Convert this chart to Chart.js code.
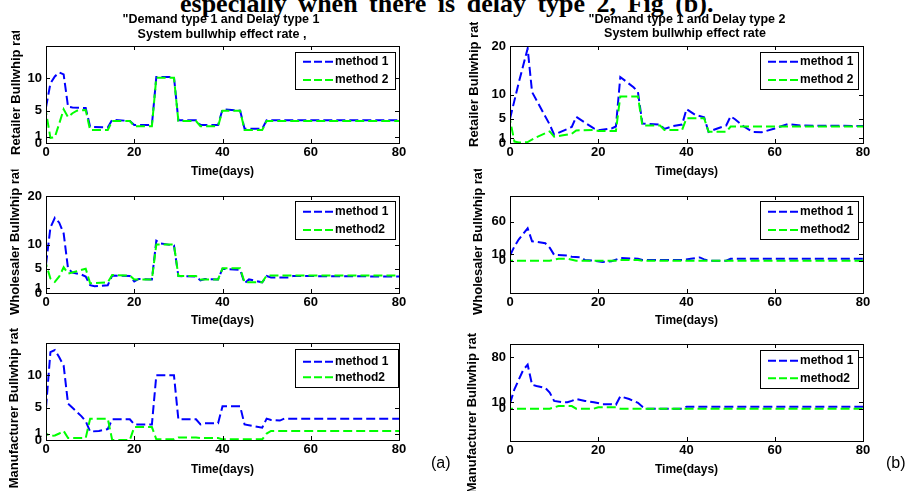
<!DOCTYPE html>
<html>
<head>
<meta charset="utf-8">
<script src="https://cdn.jsdelivr.net/npm/chart.js@4.4.0/dist/chart.umd.min.js"></script>
<style>
  html, body { margin: 0; padding: 0; background: #fff; }
  body { width: 908px; height: 491px; position: relative; overflow: hidden; }
  canvas { position: absolute; }
  .head { position: absolute; left: 180px; top: -9px; font: bold 26px "Liberation Serif", "Times New Roman", serif;
          line-height: 26px; white-space: nowrap; word-spacing: 5px; color: #000; }
  .tag { position: absolute; top: 455px; font: 16px "Liberation Sans", Arial, sans-serif; line-height: 16px; color: #000; }
</style>
</head>
<body>
<div class="head">especially when there is delay type 2, Fig (b).</div>
<canvas id="c1" width="454" height="191" style="left:0;top:0"></canvas>
<canvas id="c2" width="454" height="191" style="left:454px;top:0"></canvas>
<canvas id="c3" width="454" height="191" style="left:0;top:150px"></canvas>
<canvas id="c4" width="454" height="191" style="left:454px;top:150px"></canvas>
<canvas id="c5" width="454" height="191" style="left:0;top:300px"></canvas>
<canvas id="c6" width="454" height="191" style="left:454px;top:300px"></canvas>
<div class="tag" style="left:431px">(a)</div>
<div class="tag" style="left:886px">(b)</div>
<script>
const xTicks = [0, 20, 40, 60, 80];

// Retailer, delay type 1
const ret1Days1 = [0,1,2,3,4,5,6,9,10,14,15,19,20,24,25,29,30,34,35,39,40,44,45,49,50,80];
const ret1Method1 = [5.5,9.2,10.3,10.9,10.6,5.6,5.5,5.4,2.5,2.4,3.6,3.4,2.8,2.8,10.2,10.2,3.5,3.5,2.8,2.8,5.2,5.0,2.2,2.2,3.5,3.5];
const ret1Days2 = [0,1,2,3,4,5,6,7,9,10,14,15,19,20,24,25,29,30,34,35,39,40,44,45,49,50,80];
const ret1Method2 = [4.8,0.8,0.9,3.0,5.2,4.0,4.6,5.0,5.1,2.0,2.0,3.4,3.4,2.6,2.6,10.1,10.1,3.4,3.4,2.6,2.6,5.0,5.0,2.0,2.0,3.4,3.4];
const ret1YTicks = [0, 1, 5, 10];

// Retailer, delay type 2
const ret2Days1 = [0,2,4,5,9,10,14,15,17,19,20,23,24,25,28,29,30,34,35,37,39,40,42,44,45,47,49,50,51,53,55,57,60,63,66,80];
const ret2Method1 = [5,12.5,19.5,10.5,3.8,1.7,3.3,5.4,4.2,3.0,2.6,3.0,3.4,13.6,11.5,10.5,4.0,3.8,2.9,3.5,3.8,7.0,5.8,5.3,2.3,3.0,3.6,5.5,4.9,3.4,2.3,2.2,3.0,3.9,3.6,3.5];
const ret2Days2 = [0,1,2,4,6,8,9,10,12,14,15,19,20,24,25,29,30,34,35,39,40,44,45,49,50,80];
const ret2Method2 = [4.8,0.3,0.1,0.2,1.2,2.0,2.4,1.3,1.6,1.9,2.6,2.7,2.5,2.5,9.6,9.6,3.6,3.6,2.7,2.7,5.1,5.1,2.3,2.3,3.4,3.4];
const ret2YTicks = [0, 1, 5, 10, 20];

// Wholesaler, delay type 1
const whs1Days1 = [0,1,2,3,4,5,6,8,9,10,11,14,15,19,20,21,24,25,26,29,30,34,35,36,39,40,44,45,46,47,49,50,51,55,56,80];
const whs1Method1 = [5.9,13.5,15.5,14.5,12.3,5.0,4.2,3.8,3.4,1.6,1.4,1.6,3.6,3.5,2.4,2.9,2.8,10.8,10.2,9.8,3.5,3.4,2.6,2.9,2.8,5.0,4.8,2.0,2.8,2.6,2.2,3.5,3.2,3.2,3.5,3.4];
const whs1Days2 = [0,1,2,3,4,5,7,9,10,14,15,19,20,24,25,29,30,34,35,39,40,44,45,49,50,80];
const whs1Method2 = [6.0,3.0,2.3,3.4,5.3,4.0,4.5,5.0,2.0,2.2,3.7,3.6,2.8,2.8,10.0,10.0,3.5,3.5,2.8,2.8,5.1,5.1,2.2,2.2,3.6,3.6];
const whs1YTicks = [0, 1, 5, 10, 20];

// Wholesaler, delay type 2
const whs2Days1 = [0,1,2,4,5,6,8,9,10,13,14,16,17,19,21,23,25,29,30,39,41,43,44,45,49,50,80];
const whs2Method1 = [8,22,33,50,30,29,27,20,9,8,6,5,1,0,-2,-1,4,3,1,1,3,5,2,0,0,3,3];
const whs2Days2 = [0,9,11,13,15,24,25,29,30,80];
const whs2Method2 = [0,0,3,3,0,0,1,1,0,0];
const whs2YTicks = [0, 10, 60];

// Manufacturer, delay type 1
const man1Days1 = [0,1,2,3,4,5,6,8,9,10,12,14,15,19,20,24,25,29,30,34,35,36,39,40,44,45,49,50,51,53,54,80];
const man1Method1 = [5,13.6,13.9,12.8,11.5,5.6,5.0,3.7,2.9,1.3,1.4,1.7,3.2,3.2,2.4,2.4,10.0,10.0,3.2,3.2,2.4,2.6,2.6,5.2,5.2,2.4,1.9,3.3,3.1,3.0,3.3,3.3];
const man1Days2 = [0,1,2,3,4,5,9,10,14,15,19,20,24,25,29,30,34,35,39,40,49,50,51,80];
const man1Method2 = [1.0,0.6,0.7,1.0,1.4,0.3,0.3,3.3,3.3,0,0,2.0,2.0,0.1,0.1,0.4,0.4,0.3,0.3,0.1,0.1,1.0,1.4,1.4];
const man1YTicks = [0, 1, 5, 10];

// Manufacturer, delay type 2
const man2Days1 = [0,1,2,3,4,5,6,8,9,10,12,13,14,15,17,19,21,23,24,25,27,29,30,31,39,40,80];
const man2Method1 = [8,30,45,60,68,37,35,32,25,12,10,10,12,15,12,10,7,7,6,19,15,9,3,0,0,3,3];
const man2Days2 = [0,9,11,14,15,19,20,24,25,80];
const man2Method2 = [0,0,4,4,0,0,2,2,0,0];
const man2YTicks = [0, 10, 80];

const BLUE = 'rgb(0,0,255)';
const GREEN = 'rgb(0,255,0)';
const FONT = 'Arial, "Liberation Sans", Helvetica, sans-serif';
const CW = 454, CH = 191, YW = 40, XH = 25;

Chart.defaults.font.family = FONT;
Chart.defaults.font.size = 13;
Chart.defaults.font.weight = 'bold';
Chart.defaults.color = '#000';

function points(days, vals) {
  return days.map((d, i) => ({ x: d, y: vals[i] }));
}

// box, inward ticks, legend and the labels around each axes
function decor(p) {
  return {
    id: 'decor',
    afterDraw(chart) {
      const { ctx, chartArea: a, scales: { x, y } } = chart;
      ctx.save();
      ctx.strokeStyle = '#000';
      ctx.lineWidth = 1;
      ctx.strokeRect(a.left + 0.5, a.top + 0.5, a.right - a.left, a.bottom - a.top);
      ctx.beginPath();
      x.ticks.forEach(t => {
        const px = Math.round(x.getPixelForValue(t.value)) + 0.5;
        ctx.moveTo(px, a.bottom); ctx.lineTo(px, a.bottom - 4);
        ctx.moveTo(px, a.top); ctx.lineTo(px, a.top + 4);
      });
      y.ticks.forEach(t => {
        const py = Math.round(y.getPixelForValue(t.value)) + 0.5;
        ctx.moveTo(a.left, py); ctx.lineTo(a.left + 4, py);
        ctx.moveTo(a.right, py); ctx.lineTo(a.right - 4, py);
      });
      ctx.stroke();

      // legend
      const L = p.legend;
      ctx.fillStyle = '#fff';
      ctx.fillRect(L.l, L.t, L.r - L.l, L.b - L.t);
      ctx.strokeRect(L.l + 0.5, L.t + 0.5, L.r - L.l, L.b - L.t);
      ctx.font = 'bold 12px ' + FONT;
      ctx.textAlign = 'left';
      ctx.textBaseline = 'middle';
      chart.data.datasets.forEach((ds, i) => {
        const ly = L.rows[i];
        ctx.strokeStyle = ds.borderColor;
        ctx.lineWidth = 2;
        ctx.setLineDash([8, 3]);
        ctx.beginPath();
        ctx.moveTo(L.l + 8, ly);
        ctx.lineTo(L.l + 38, ly);
        ctx.stroke();
        ctx.setLineDash([]);
        ctx.fillStyle = '#000';
        ctx.fillText(ds.label, L.l + 40, ly);
      });

      // title lines
      ctx.textAlign = 'center';
      ctx.font = 'bold 12.5px ' + FONT;
      (p.title || []).forEach(tl => ctx.fillText(tl.text, tl.x, tl.y));

      // x label
      ctx.font = 'bold 12px ' + FONT;
      ctx.fillText('Time(days)', (a.left + a.right) / 2, p.xlabY);

      // y label, cut off where the panel ends
      ctx.save();
      ctx.beginPath();
      ctx.rect(0, p.ylab.clip, CW, CH);
      ctx.clip();
      ctx.translate(p.ylab.x, p.ylab.y);
      ctx.rotate(-Math.PI / 2);
      ctx.font = 'bold 13px ' + FONT;
      ctx.textAlign = 'left';
      ctx.textBaseline = 'alphabetic';
      ctx.fillText(p.ylabel, 0, 0);
      ctx.restore();
      ctx.restore();
    }
  };
}

const panels = [
  { id: 'c1', area: { l: 46, r: 399, t: 46, b: 143 }, yMin: 0, yMax: 15, yTicks: ret1YTicks,
    s1: [ret1Days1, ret1Method1], s2: [ret1Days2, ret1Method2], names: ['method 1', 'method 2'],
    title: [{ text: '"Demand type 1 and Delay type 1', x: 221, y: 20 }, { text: 'System bullwhip effect rate ,', x: 222, y: 34.5 }],
    xlabY: 171.5, ylabel: 'Retailer Bullwhip rate', ylab: { x: 19.5, y: 155, clip: 31 },
    legend: { l: 295, r: 395, t: 52, b: 89, rows: [61.7, 80] } },
  { id: 'c2', area: { l: 56, r: 409, t: 46, b: 143 }, yMin: 0, yMax: 20, yTicks: ret2YTicks,
    s1: [ret2Days1, ret2Method1], s2: [ret2Days2, ret2Method2], names: ['method 1', 'method 2'],
    title: [{ text: '"Demand type 1 and Delay type 2', x: 233, y: 19.5 }, { text: 'System bullwhip effect rate', x: 231, y: 33.5 }],
    xlabY: 171.5, ylabel: 'Retailer Bullwhip rate', ylab: { x: 23.5, y: 147, clip: 22 },
    legend: { l: 306, r: 404, t: 52, b: 89, rows: [61.7, 80] } },
  { id: 'c3', area: { l: 46, r: 399, t: 46, b: 143 }, yMin: 0, yMax: 20, yTicks: whs1YTicks,
    s1: [whs1Days1, whs1Method1], s2: [whs1Days2, whs1Method2], names: ['method 1', 'method2'],
    xlabY: 170.5, ylabel: 'Wholesaler Bullwhip rate', ylab: { x: 19.2, y: 165, clip: 19.5 },
    legend: { l: 295, r: 395, t: 51, b: 89, rows: [61.7, 80] } },
  { id: 'c4', area: { l: 56, r: 409, t: 46, b: 143 }, yMin: -50, yMax: 100, yTicks: whs2YTicks,
    s1: [whs2Days1, whs2Method1], s2: [whs2Days2, whs2Method2], names: ['method 1', 'method2'],
    xlabY: 171, ylabel: 'Wholesaler Bullwhip rate', ylab: { x: 28.2, y: 165, clip: 19 },
    legend: { l: 306, r: 404, t: 51, b: 89, rows: [61.7, 80] } },
  { id: 'c5', area: { l: 46, r: 399, t: 43, b: 140 }, yMin: 0, yMax: 15, yTicks: man1YTicks,
    s1: [man1Days1, man1Method1], s2: [man1Days2, man1Method2], names: ['method 1', 'method2'],
    xlabY: 169.5, ylabel: 'Manufacturer Bullwhip rate', ylab: { x: 18.2, y: 188.3, clip: 28 },
    legend: { l: 295, r: 398, t: 49, b: 87, rows: [61.7, 77.3] } },
  { id: 'c6', area: { l: 56, r: 409, t: 44, b: 141 }, yMin: -50, yMax: 100, yTicks: man2YTicks,
    s1: [man2Days1, man2Method1], s2: [man2Days2, man2Method2], names: ['method 1', 'method2'],
    xlabY: 169.8, ylabel: 'Manufacturer Bullwhip rate', ylab: { x: 21.5, y: 193.3, clip: 33 },
    legend: { l: 306, r: 404, t: 50, b: 88, rows: [60.7, 78.3] } }
];

panels.forEach(p => {
  new Chart(document.getElementById(p.id), {
    type: 'line',
    data: {
      datasets: [
        { label: p.names[0], data: points(p.s1[0], p.s1[1]), borderColor: BLUE, borderWidth: 2,
          borderDash: [9, 4], pointRadius: 0, tension: 0, order: 2 },
        { label: p.names[1], data: points(p.s2[0], p.s2[1]), borderColor: GREEN, borderWidth: 2,
          borderDash: [9, 4], borderDashOffset: 6, pointRadius: 0, tension: 0, order: 1 }
      ]
    },
    options: {
      responsive: false,
      animation: false,
      devicePixelRatio: 1,
      events: [],
      layout: { padding: { left: p.area.l - YW, right: CW - p.area.r, top: p.area.t, bottom: CH - p.area.b - XH } },
      plugins: { legend: { display: false }, tooltip: { enabled: false } },
      scales: {
        x: {
          type: 'linear', min: 0, max: 80,
          grid: { display: false, drawTicks: false },
          border: { display: false },
          ticks: { padding: 2, autoSkip: false, maxRotation: 0 },
          afterBuildTicks: s => { s.ticks = xTicks.map(v => ({ value: v })); },
          afterFit: s => { s.height = XH; }
        },
        y: {
          type: 'linear', min: p.yMin, max: p.yMax,
          grid: { display: false, drawTicks: false },
          border: { display: false },
          ticks: { padding: 4, autoSkip: false },
          afterBuildTicks: s => { s.ticks = p.yTicks.map(v => ({ value: v })); },
          afterFit: s => { s.width = YW; }
        }
      }
    },
    plugins: [decor(p)]
  });
});
</script>
</body>
</html>
